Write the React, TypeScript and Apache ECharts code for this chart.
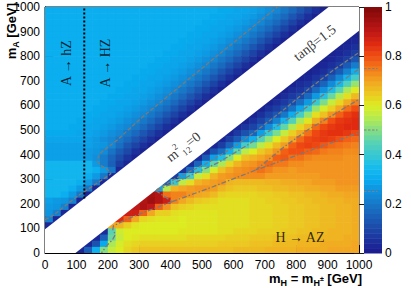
import React, { useEffect, useRef } from "react";
import * as echarts from "echarts";

// bin edges (GeV) for both m_H (columns) and m_A (rows)
const binEdges = [0, 25, 50, 75, 100, 125, 150, 175, 200, 225, 250, 275, 300, 325, 350, 375, 400, 425, 450, 475, 500, 525, 550, 575, 600, 625, 650, 675, 700, 725, 750, 775, 800, 825, 850, 875, 900, 925, 950, 975, 1000];

// branching ratio in percent, one string per m_A bin, top (975-1000) first; "-" = no entry
const brRows: string[] = [
  "31 31 31 31 31 31 31 31 31 31 31 31 31 31 31 31 31 31 31 31 31 31 30 30 29 29 28 27 25 23 20 17 13 9 5 2 2 - - -",
  "31 31 31 31 31 31 31 31 31 31 31 31 31 31 31 31 31 31 31 31 31 30 30 29 29 28 27 25 23 20 17 13 9 5 2 2 - - - -",
  "31 31 31 31 31 31 31 31 31 31 31 31 31 31 31 31 31 31 31 31 30 30 29 29 28 27 25 23 20 17 13 9 5 2 2 - - - - -",
  "31 31 31 31 31 31 31 31 31 31 31 31 31 31 31 31 31 31 31 30 30 29 29 28 27 25 23 20 17 13 9 5 2 2 - - - - - 2",
  "31 31 31 31 31 31 31 31 31 31 31 31 31 31 31 31 31 31 30 30 29 29 28 27 25 23 20 17 13 9 5 2 2 - - - - - 2 2",
  "31 31 31 31 31 31 31 31 31 31 31 31 31 31 31 31 31 30 30 29 29 28 27 25 23 20 17 13 9 5 2 2 - - - - - 2 2 3",
  "31 31 31 31 31 31 31 31 31 31 31 31 31 31 31 31 30 30 29 29 28 27 25 23 20 17 13 9 5 2 2 - - - - - 2 2 3 5",
  "31 31 31 31 31 31 31 31 31 31 31 31 31 31 31 30 30 29 29 28 27 25 23 20 17 13 9 5 2 2 - - - - - 2 2 3 5 8",
  "31 31 31 31 31 31 31 31 31 31 31 31 31 31 30 30 29 29 28 27 25 23 20 17 13 9 5 2 2 - - - - - 2 2 3 5 8 13",
  "31 31 31 31 31 31 31 31 31 31 31 31 31 30 30 29 29 28 27 25 23 20 17 13 9 5 2 2 - - - - - 2 2 3 5 8 14 21",
  "31 31 31 31 31 31 31 31 31 31 31 31 30 30 29 29 28 27 25 23 20 17 13 9 5 2 2 - - - - - 2 2 3 5 9 14 22 32",
  "31 31 31 31 31 31 31 31 31 31 31 30 30 29 29 28 27 25 23 20 17 13 9 5 2 2 - - - - - 2 2 3 6 9 15 23 33 42",
  "31 31 31 31 31 31 31 31 31 31 30 30 29 29 28 27 25 23 20 17 13 9 5 2 2 - - - - - 2 2 4 6 10 16 24 34 44 52",
  "31 31 31 31 31 31 31 31 31 30 30 29 29 28 27 25 23 20 17 13 9 5 2 2 - - - - - 2 2 4 6 10 17 25 35 45 54 60",
  "31 31 31 31 31 31 31 31 30 30 29 29 28 27 25 23 20 17 13 9 5 2 2 - - - - - 2 2 4 7 10 17 27 37 47 55 62 67",
  "31 31 31 31 31 31 31 30 30 29 29 28 27 25 23 20 17 13 9 5 2 2 - - - - - 2 2 4 7 11 18 27 40 49 57 63 69 74",
  "31 31 31 31 31 31 30 30 29 29 28 27 25 23 20 17 13 9 5 2 2 - - - - - 2 2 5 8 12 19 29 40 52 59 64 70 76 80",
  "31 31 31 31 31 30 30 29 29 28 27 25 23 20 17 13 9 5 2 2 - - - - - 2 2 5 9 13 20 31 42 52 62 66 72 78 82 84",
  "31 31 31 31 30 30 29 29 28 27 25 23 20 17 13 9 5 2 2 - - - - - 2 2 5 9 14 22 33 44 54 61 69 74 80 83 84 85",
  "31 31 31 30 30 29 29 28 27 25 23 20 17 13 9 5 2 2 - - - - - 3 3 6 9 15 24 36 46 55 63 68 77 81 83 84 85 85",
  "30 30 30 30 29 29 28 27 25 23 20 17 13 9 5 2 2 - - - - - 3 3 7 12 16 28 40 49 57 64 69 76 81 83 84 84 83 81",
  "29 29 29 29 29 28 27 25 23 20 17 13 9 5 2 2 - - - - - 3 3 8 14 24 32 44 52 60 65 70 77 81 82 83 82 80 78 77",
  "28 28 28 28 28 28 27 26 23 18 13 9 5 2 2 - - - - - 3 3 8 16 28 42 48 56 62 67 71 78 81 82 81 79 77 76 75 74",
  "28 28 28 28 28 27 26 24 19 14 10 5 2 2 - - - - - 4 4 12 18 32 46 56 60 65 68 72 78 80 80 78 77 75 74 74 73 73",
  "28 28 28 28 28 27 25 21 16 11 6 2 2 - - - - - 4 4 14 28 36 50 60 66 68 70 72 78 79 76 76 74 73 73 73 73 72 72",
  "33 33 33 33 33 33 27 21 15 8 3 3 - - - - - 5 5 16 32 46 54 63 68 71 72 74 77 75 75 73 73 72 72 72 72 72 72 72",
  "33 33 33 33 33 33 31 27 20 3 3 - - - - - 6 6 18 37 50 59 66 70 72 73 74 76 74 72 72 71 72 72 72 72 72 72 72 72",
  "33 33 33 33 33 31 27 20 3 3 - - - - - 8 8 28 42 57 62 68 71 72 73 73 73 73 71 71 71 71 71 71 71 72 72 72 72 72",
  "33 33 33 33 31 27 20 3 3 - - - - - 15 15 40 56 62 68 70 71 72 68 67 67 67 67 68 68 69 69 70 70 71 71 71 72 72 72",
  "33 33 33 31 27 20 3 3 - - - - - 30 30 55 68 70 71 72 72 71 68 66 65 65 65 66 66 67 67 68 68 69 69 70 70 71 71 71",
  "33 33 31 27 20 3 3 - - - - - 94 94 92 76 74 74 72 70 69 67 64 63 63 63 63 64 64 65 65 66 66 67 67 68 69 69 70 70",
  "28 27 26 22 3 3 - - - - - 92 92 95 92 88 74 70 67 65 64 63 62 62 62 62 63 63 64 64 65 65 66 66 67 67 68 68 69 69",
  "27 26 22 3 3 - - - - - 90 90 93 90 78 72 66 64 63 62 62 62 62 62 62 62 63 63 63 64 64 65 65 66 66 67 67 68 68 69",
  "26 22 3 3 - - - - - 88 88 88 78 70 64 64 62 61 61 61 61 61 62 62 62 62 63 63 63 64 64 65 65 66 66 67 67 68 68 69",
  "22 3 3 - - - - - 85 85 78 70 63 62 61 61 61 60 61 61 61 61 62 62 62 62 63 63 63 64 64 65 65 66 66 67 67 68 68 69",
  "3 3 - - - - - 70 70 68 64 61 60 60 60 60 60 60 61 61 61 61 62 62 62 62 63 63 63 64 64 65 65 66 66 67 67 68 68 69",
  "3 - - - - - 4 4 45 58 60 60 60 60 60 60 60 61 61 61 61 61 62 62 63 63 63 64 64 64 65 65 66 66 67 67 68 68 68 69",
  "- - - - - 3 3 15 47 57 60 61 62 62 62 62 62 62 63 63 63 63 63 64 64 64 65 65 65 66 66 66 67 67 67 68 68 68 69 69",
  "- - - - 3 3 12 30 54 59 62 63 64 64 64 64 64 64 64 64 64 64 65 65 65 65 66 66 66 67 67 67 68 68 68 69 69 69 69 70",
  "- - - 3 3 15 32 50 57 60 63 65 66 66 66 66 66 66 66 66 66 66 66 66 67 67 67 67 68 68 68 68 69 69 69 69 70 70 70 70",
];

// palette stops for 0, 0.05, ..., 1
const paletteStops = [
  "#1a1a8c", "#1c309c", "#1c48a8", "#1a60b8", "#1878c8", "#1090dc", "#08aaee", "#18bcec",
  "#38c8d2", "#58d2b4", "#84de84", "#b4ea50", "#dcec20", "#ecc822", "#f2a622", "#f27a1a",
  "#f04e12", "#e02a10", "#c01818", "#a01010", "#800808",
];
const colorbarLevels = [0, 0.02, 0.04, 0.06, 0.08, 0.1, 0.12, 0.14, 0.16, 0.18, 0.2, 0.22, 0.24, 0.26, 0.28, 0.3, 0.32, 0.34, 0.36, 0.38, 0.4, 0.42, 0.44, 0.46, 0.48, 0.5, 0.52, 0.54, 0.56, 0.58, 0.6, 0.62, 0.64, 0.66, 0.68, 0.7, 0.72, 0.74, 0.76, 0.78, 0.8, 0.82, 0.84, 0.86, 0.88, 0.9, 0.92, 0.94, 0.96, 0.98, 1];
const contourLevels = [0.25, 0.5, 0.75];

// kinematically closed band |mA - mH| < mZ-ish
const bandPolygon = [[0, 0], [97, 0], [1000, 903], [1000, 1000], [903, 1000], [0, 97]];

// contour lines (mH, mA)
const contourAHZ = [[0, 135], [27, 154], [100, 228], [185, 300], [210, 322], [198, 342], [176, 356], [167, 372], [170, 392], [178, 408], [230, 459], [303, 545], [520, 772], [740, 1000]];
const contourNearBand = [[355, 257], [420, 306], [516, 365], [600, 430], [676, 500], [760, 582], [836, 663], [920, 745], [1000, 815]];
const contourMid = [[355, 255], [420, 290], [548, 365], [640, 435], [719, 500], [836, 595], [920, 675], [1000, 748]];
const contourWedgeTop = [[671, 337], [760, 430], [836, 500], [920, 563], [1000, 625]];
const contourWedgeBottom = [[405, 209], [520, 262], [671, 337], [836, 413], [1000, 489]];
const contourTriangleRight = [[352, 254], [378, 232], [405, 209]];
const contourTriangleLow = [[405, 209], [320, 168], [260, 137], [218, 110], [216, 96], [224, 75], [214, 52], [195, 28], [180, 0]];
const hZThreshold = [[125, 222], [125, 1000]];

const annotations = [
  { text: "A → hZ", mH: 70, mA: 772, rotate: 90 },
  { text: "A → HZ", mH: 192, mA: 772, rotate: 90 },
  { text: "tanβ=1.5", mH: 859, mA: 854, rotate: 38 },
  { text: "{m|m}{sup|2}{sub|12}{m|=0}", mH: 441, mA: 431, rotate: 38 },
  { text: "H → AZ", mH: 812, mA: 65, rotate: 0 },
];

function hexToRgb(h: string) {
  const n = parseInt(h.slice(1), 16);
  return [(n >> 16) & 255, (n >> 8) & 255, n & 255];
}
const paletteRgb = paletteStops.map(hexToRgb);
function colorFor(v: number) {
  const t = Math.max(0, Math.min(1, v)) * (paletteRgb.length - 1);
  const i = Math.min(Math.floor(t), paletteRgb.length - 2);
  const f = t - i;
  const a = paletteRgb[i];
  const b = paletteRgb[i + 1];
  const c = [0, 1, 2].map((k) => Math.round(a[k] + (b[k] - a[k]) * f));
  return `rgb(${c[0]},${c[1]},${c[2]})`;
}

function buildCells() {
  const cells: number[][] = [];
  const nRows = brRows.length;
  brRows.forEach((row, r) => {
    const j = nRows - 1 - r;
    row.trim().split(/\s+/).forEach((tok, i) => {
      if (tok === "-" || i >= binEdges.length - 1) return;
      cells.push([binEdges[i], binEdges[i + 1], binEdges[j], binEdges[j + 1], Number(tok) / 100]);
    });
  });
  return cells;
}

const FONT = "Liberation Sans";
const SERIF = "Liberation Serif";
const plainNumber = (v: number) => String(v);

function contourSeries(data: number[][], dash: number[]) {
  return {
    type: "line",
    xAxisIndex: 0,
    yAxisIndex: 0,
    data,
    symbol: "none",
    silent: true,
    z: 4,
    lineStyle: { color: "#7a7a7a", width: 1.3, type: dash },
  };
}

export default function App() {
  const ref = useRef<HTMLDivElement>(null);
  useEffect(() => {
    document.body.style.margin = "0";
    const chart = echarts.init(ref.current as HTMLDivElement, undefined, { renderer: "svg" });
    const cells = buildCells();
    const nameRich = {
      b: { fontFamily: FONT, fontWeight: "bold", fontSize: 13, lineHeight: 18, color: "#000" },
      s: { fontFamily: FONT, fontWeight: "bold", fontSize: 9, lineHeight: 9, verticalAlign: "bottom", color: "#000" },
      p: { fontFamily: FONT, fontWeight: "bold", fontSize: 7, lineHeight: 7, verticalAlign: "middle", color: "#000" },
    };
    const option: any = {
      animation: false,
      backgroundColor: "#fff",
      textStyle: { fontFamily: FONT },
      graphic: [
        {
          type: "text",
          x: 11,
          y: 3,
          rotation: Math.PI / 2,
          silent: true,
          style: { text: "{b|m}{s|A}{b| [GeV]}", rich: nameRich, align: "right", verticalAlign: "middle" },
        },
      ],
      grid: [
        { left: 45, right: 52, top: 7, bottom: 35, show: true, borderColor: "#000", borderWidth: 1, containLabel: false, outerBoundsMode: "none" },
        { left: 364, right: 29, top: 7, bottom: 35, containLabel: false, outerBoundsMode: "none" },
      ],
      xAxis: [
        {
          type: "value",
          gridIndex: 0,
          min: 0,
          max: 1000,
          interval: 100,
          axisLine: { show: true, lineStyle: { color: "#000", width: 1 } },
          axisTick: { show: true, inside: true, length: 8, lineStyle: { color: "#000" } },
          minorTick: { show: true, splitNumber: 5, length: 4, lineStyle: { color: "#000" } },
          splitLine: { show: false },
          axisLabel: { color: "#000", fontFamily: FONT, fontSize: 12, margin: 6, formatter: plainNumber },
          name: "{b|m}{s|H}{b| = m}{s|H}{p|±}{b| [GeV]}",
          nameLocation: "end",
          nameGap: 3,
          nameTextStyle: { align: "right", verticalAlign: "top", padding: [16, 0, 0, 0], rich: nameRich },
        },
        { type: "value", gridIndex: 1, min: 0, max: 1, show: false },
      ],
      yAxis: [
        {
          type: "value",
          gridIndex: 0,
          min: 0,
          max: 1000,
          interval: 100,
          axisLine: { show: true, lineStyle: { color: "#000", width: 1 } },
          axisTick: { show: true, inside: true, length: 8, lineStyle: { color: "#000" } },
          minorTick: { show: true, splitNumber: 5, length: 4, lineStyle: { color: "#000" } },
          splitLine: { show: false },
          axisLabel: { color: "#000", fontFamily: FONT, fontSize: 12, margin: 5, formatter: plainNumber },
        },
        {
          type: "value",
          gridIndex: 1,
          min: 0,
          max: 1,
          interval: 0.2,
          position: "right",
          axisLine: { show: false },
          axisTick: { show: true, inside: true, length: 10, lineStyle: { color: "#1a1a1a" } },
          splitLine: { show: false },
          axisLabel: { color: "#000", fontFamily: FONT, fontSize: 12, margin: 3, formatter: plainNumber },
        },
      ],
      series: [
        {
          type: "custom",
          xAxisIndex: 0,
          yAxisIndex: 0,
          data: cells,
          encode: { x: [0, 1], y: [2, 3] },
          clip: true,
          silent: true,
          z: 1,
          renderItem: (_p: any, api: any) => {
            const a = api.coord([api.value(0), api.value(3)]);
            const b = api.coord([api.value(1), api.value(2)]);
            return {
              type: "rect",
              shape: { x: a[0], y: a[1], width: b[0] - a[0] + 0.6, height: b[1] - a[1] + 0.6 },
              style: { fill: colorFor(api.value(4)) },
            };
          },
        },
        {
          type: "custom",
          xAxisIndex: 0,
          yAxisIndex: 0,
          data: [bandPolygon[0]],
          clip: true,
          silent: true,
          z: 2,
          renderItem: (_p: any, api: any) => ({
            type: "polygon",
            shape: { points: bandPolygon.map((pt) => api.coord(pt)) },
            style: { fill: "#ffffff" },
          }),
        },
        contourSeries(contourAHZ, [4, 2]),
        contourSeries(contourNearBand, [4, 2]),
        contourSeries(contourMid, [5, 2, 1.5, 2]),
        contourSeries(contourWedgeTop, [5, 2, 1.5, 2]),
        contourSeries(contourWedgeBottom, [5, 2, 1.5, 2]),
        contourSeries(contourTriangleRight, [5, 2, 1.5, 2]),
        contourSeries(contourTriangleLow, [5, 2, 1.5, 2]),
        {
          type: "line",
          xAxisIndex: 0,
          yAxisIndex: 0,
          data: hZThreshold,
          symbol: "none",
          silent: true,
          z: 5,
          lineStyle: { color: "#000", width: 2, type: [2, 2] },
        },
        {
          type: "scatter",
          xAxisIndex: 0,
          yAxisIndex: 0,
          symbolSize: 1,
          silent: true,
          z: 6,
          itemStyle: { color: "rgba(0,0,0,0)" },
          data: annotations.map((a) => ({
            value: [a.mH, a.mA],
            label: { formatter: a.text, rotate: a.rotate },
          })),
          label: {
            show: true,
            position: "inside",
            color: "#000",
            fontFamily: SERIF,
            fontSize: 14,
            rich: {
              m: { fontFamily: SERIF, fontSize: 14, lineHeight: 20, color: "#000" },
              sup: { fontFamily: SERIF, fontSize: 9, lineHeight: 9, verticalAlign: "top", color: "#000" },
              sub: { fontFamily: SERIF, fontSize: 9, lineHeight: 9, verticalAlign: "bottom", color: "#000" },
            },
          },
        },
        {
          type: "custom",
          xAxisIndex: 1,
          yAxisIndex: 1,
          data: colorbarLevels.slice(0, -1).map((lv, n) => [0, lv, colorbarLevels[n + 1]]),
          encode: { x: 0, y: [1, 2] },
          silent: true,
          renderItem: (_p: any, api: any) => {
            const lo = api.value(1);
            const hi = api.value(2);
            const a = api.coord([0, hi]);
            const b = api.coord([1, lo]);
            return {
              type: "rect",
              shape: { x: a[0], y: a[1], width: b[0] - a[0], height: b[1] - a[1] + 0.5 },
              style: { fill: colorFor((lo + hi) / 2) },
            };
          },
        },
        {
          type: "custom",
          xAxisIndex: 1,
          yAxisIndex: 1,
          data: contourLevels.map((v) => [0, v]),
          silent: true,
          z: 5,
          renderItem: (_p: any, api: any) => {
            const v = api.value(1);
            const a = api.coord([0, v]);
            const b = api.coord([0.75, v]);
            return {
              type: "line",
              shape: { x1: a[0], y1: a[1], x2: b[0], y2: b[1] },
              style: { stroke: "#808080", lineWidth: 1.2, lineDash: [2.5, 1.5] },
            };
          },
        },
      ],
    };
    chart.setOption(option);
    return () => chart.dispose();
  }, []);
  return <div ref={ref} style={{ width: 411, height: 288 }} />;
}
